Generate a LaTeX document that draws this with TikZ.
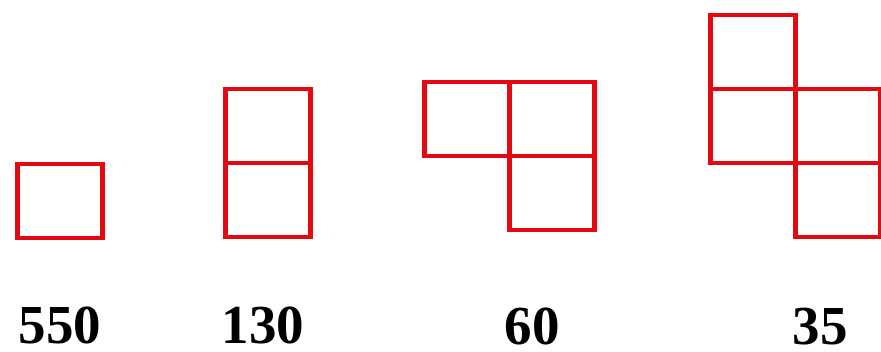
\documentclass[tikz,border=0pt]{standalone}
\usepackage{fontspec}
\setmainfont{Liberation Serif}
\usetikzlibrary{positioning}
\definecolor{cellred}{RGB}{228,8,16}

\begin{document}
\begin{tikzpicture}[x=1pt, y=-1pt,
		c/.style = {rectangle, draw=cellred, line width=4.5pt, minimum width=85pt, minimum height=74pt, inner sep=0pt, outer sep=0pt},
		n/.style = {anchor=base, inner sep=0pt, font=\fontsize{55}{55}\selectfont\bfseries},
		node distance=0pt
		]
		\useasboundingbox (0,0) rectangle (881,351);
		
		%Cells
		\node[c]	(a1)	at	(60, 201)	{};
		
		\node[c]	(b1)	at	(268, 126)	{};
		\node[c, below=of b1]	(b2)	{};
		
		\node[c]	(c1)	at	(467, 119)	{};
		\node[c, right=of c1]	(c2)	{};
		\node[c, below=of c2]	(c3)	{};
		
		\node[c]	(d1)	at	(753, 52)	{};
		\node[c, below=of d1]	(d2)	{};
		\node[c, right=of d2]	(d3)	{};
		\node[c, below=of d3]	(d4)	{};
		
		%Counts
		\node[n]	(na)	at	(60, 343)	{550};
		\node[n]	(nb)	at	(263, 343)	{130};
		\node[n]	(nc)	at	(532, 344)	{60};
		\node[n]	(nd)	at	(820, 344)	{35};
	\end{tikzpicture}
\end{document}
